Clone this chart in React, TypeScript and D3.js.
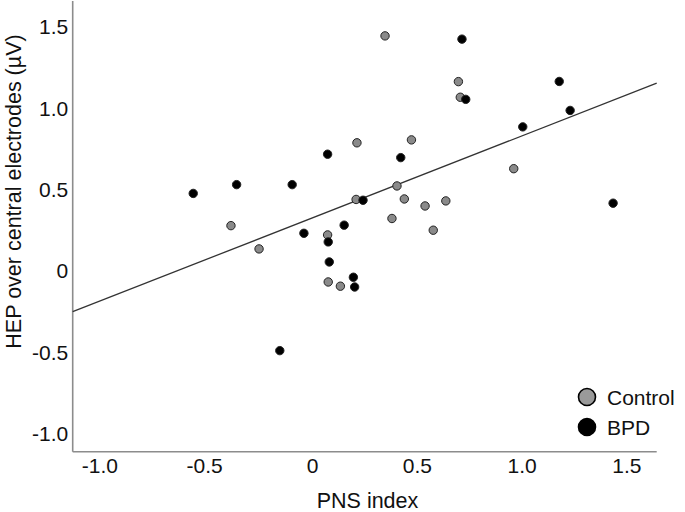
import React, { useEffect, useRef } from 'react';
import * as d3 from 'd3';

// PNS index (x) and HEP amplitude (y)
const controlX = [0.346, 0.696, 0.705, 0.212, 0.472, 0.96, 0.403, 0.208, 0.438, 0.537, 0.636, 0.379, 0.576, -0.389, -0.255, 0.072, 0.075, 0.133];
const controlY = [1.443, 1.162, 1.066, 0.786, 0.804, 0.627, 0.521, 0.438, 0.441, 0.398, 0.429, 0.321, 0.249, 0.277, 0.134, 0.22, -0.069, -0.095];
const bpdX = [0.713, 0.731, 1.177, 1.229, 1.003, 0.072, 0.421, -0.569, -0.362, -0.097, 0.241, 0.151, -0.041, 0.075, 0.08, 0.195, 0.201, -0.156, 1.434];
const bpdY = [1.423, 1.053, 1.163, 0.985, 0.884, 0.716, 0.695, 0.475, 0.529, 0.529, 0.433, 0.28, 0.23, 0.177, 0.054, -0.04, -0.1, -0.491, 0.415];

const xTicks = [-1.0, -0.5, 0, 0.5, 1.0, 1.5];
const yTicks = [-1.0, -0.5, 0, 0.5, 1.0, 1.5];
const fitIntercept = 0.325;
const fitSlope = 0.504;

const groups = [
  { name: 'Control', xs: controlX, ys: controlY, fill: '#8a8a8a' },
  { name: 'BPD', xs: bpdX, ys: bpdY, fill: '#000000' },
];

// plain hyphen for negatives, like the original
const fmt = (v: number) => (v === 0 ? '0' : v.toFixed(1));

function Scatter() {
  const svgRef = useRef<SVGSVGElement>(null);
  const width = 685;
  const height = 512;

  useEffect(() => {
    const x = d3.scaleLinear().domain([-1.144, 1.642]).range([72.7, 656.7]);
    const y = d3.scaleLinear().domain([-1.112, 1.658]).range([451.7, 0.9]);

    const svg = d3.select(svgRef.current);
    svg.selectAll('*').remove();
    const font = '"Liberation Sans", Arial, sans-serif';

    // axes lines
    svg.append('line')
      .attr('x1', x.range()[0]).attr('x2', x.range()[0])
      .attr('y1', y.range()[1]).attr('y2', y.range()[0])
      .attr('stroke', '#8c8c8c').attr('stroke-width', 1.6);
    svg.append('line')
      .attr('x1', x.range()[0]).attr('x2', x.range()[1])
      .attr('y1', y.range()[0]).attr('y2', y.range()[0])
      .attr('stroke', '#8c8c8c').attr('stroke-width', 1.6);

    svg.append('g').selectAll('text').data(xTicks).enter().append('text')
      .attr('x', (d) => x(d) - (d < 0 ? 3 : 0))
      .attr('y', 473.3)
      .attr('text-anchor', 'middle')
      .attr('font-family', font).attr('font-size', 21).attr('fill', '#111')
      .text(fmt);

    svg.append('g').selectAll('text').data(yTicks).enter().append('text')
      .attr('x', 68.3)
      .attr('y', (d) => y(d))
      .attr('dy', '0.36em')
      .attr('text-anchor', 'end')
      .attr('font-family', font).attr('font-size', 21).attr('fill', '#111')
      .text(fmt);

    svg.append('text')
      .attr('x', 367.5).attr('y', 508.3)
      .attr('text-anchor', 'middle')
      .attr('font-family', font).attr('font-size', 21.5).attr('fill', '#111')
      .text('PNS index');

    svg.append('text')
      .attr('transform', 'translate(20.7,191.5) rotate(-90)')
      .attr('text-anchor', 'middle')
      .attr('font-family', font).attr('font-size', 21.5).attr('fill', '#111')
      .text('HEP over central electrodes (\u00b5V)');

    // fit line
    const [x0, x1] = x.domain();
    const line = d3.line<number>().x((d) => x(d)).y((d) => y(fitIntercept + fitSlope * d));
    svg.append('path')
      .attr('d', line([x0, x1]))
      .attr('fill', 'none')
      .attr('stroke', '#333')
      .attr('stroke-width', 1.3);

    groups.forEach((g) => {
      svg.append('g').selectAll('circle').data(g.xs).enter().append('circle')
        .attr('cx', (d) => x(d))
        .attr('cy', (_d, i) => y(g.ys[i]))
        .attr('r', 4.2)
        .attr('fill', g.fill)
        .attr('stroke', '#222')
        .attr('stroke-width', 1);
    });

    // legend
    const legend = svg.append('g').attr('transform', 'translate(587,397)');
    const items = legend.selectAll('g').data(groups).enter().append('g')
      .attr('transform', (_d, i) => `translate(0,${i * 30})`);
    items.append('circle')
      .attr('r', 8.5)
      .attr('fill', (d) => (d.name === 'Control' ? '#9a9a9a' : '#000'))
      .attr('stroke', '#000').attr('stroke-width', 1.6);
    items.append('text')
      .attr('x', 20).attr('dy', '0.36em')
      .attr('font-family', font).attr('font-size', 21).attr('fill', '#111')
      .text((d) => d.name);
  }, []);

  return <svg ref={svgRef} width={width} height={height} style={{ display: 'block' }} />;
}

export default function App() {
  return (
    <div style={{ position: 'absolute', left: 0, top: 0, background: '#fff' }}>
      <Scatter />
    </div>
  );
}
